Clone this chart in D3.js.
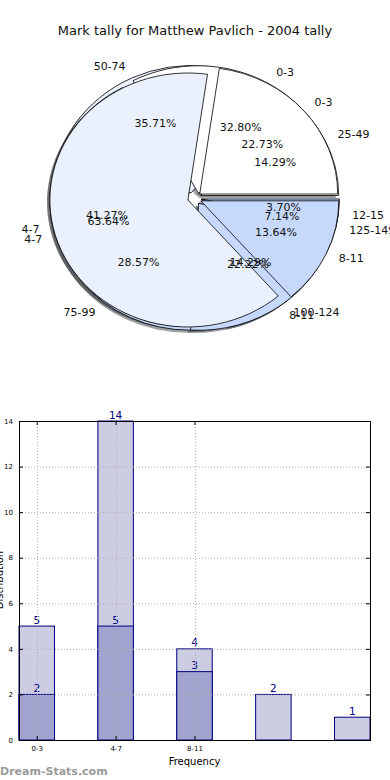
<!DOCTYPE html>
<html>
<head>
<meta charset="utf-8">
<script src="https://cdn.jsdelivr.net/npm/d3@7"></script>
<style>
  body { margin: 0; background: #fff; }
  svg { display: block; font-family: "DejaVu Sans", sans-serif; }
</style>
</head>
<body>
<svg id="chart" width="390" height="780"></svg>
<script>
const title = "Mark tally for Matthew Pavlich - 2004 tally"

// pies, drawn one over another in this order
const markLabels = ["25-49", "50-74", "75-99", "100-124", "125-149"]
const markPcts = [14.29, 35.71, 28.57, 14.29, 7.14]
const tallyLabels = ["0-3", "4-7", "8-11", "12-15"]
const tallyPcts = [32.80, 41.27, 22.22, 3.70]
const freqLabels = ["0-3", "4-7", "8-11"]
const freqPcts = [22.73, 63.64, 13.64]

// bars
const barTicks = ["0-3", "4-7", "8-11"]
const totalCounts = [5, 14, 4, 2, 1]
const seasonCounts = [2, 5, 3]
const yTicks = [0, 2, 4, 6, 8, 10, 12, 14]

const wedgeColors = ["#ffffff", "#eaf1fd", "#c6d9fd", "#a9c4f6", "#8eb0ee"]

const svg = d3.select("#chart")

svg.append("text")
    .attr("x", 195).attr("y", 30)
    .attr("text-anchor", "middle").attr("dominant-baseline", "central")
    .attr("font-size", 13).attr("fill", "#111")
    .text(title)

// ---- pies ----
const cx = 194.5, cy = 198.2, rx = 138, ry = 127, explode = 0.05
const pies = [
    {labels: markLabels, pcts: markPcts},
    {labels: tallyLabels, pcts: tallyPcts},
    {labels: freqLabels, pcts: freqPcts}
]
const pieGen = d3.pie().sort(null).value(d => d)
    .startAngle(Math.PI / 2).endAngle(Math.PI / 2 - 2 * Math.PI)
const arc = d3.arc().innerRadius(0).outerRadius(rx)

const wedges = []
pies.forEach(p => {
    pieGen(p.pcts).forEach((w, i) => {
        const m = (w.startAngle + w.endAngle) / 2
        wedges.push({
            arc: w, label: p.labels[i], pct: p.pcts[i],
            color: wedgeColors[i % wedgeColors.length],
            dx: Math.sin(m), dy: -Math.cos(m)
        })
    })
})

const pieG = svg.append("g")
const shadowG = pieG.append("g")
const wedgeG = pieG.append("g")
const textG = pieG.append("g")

wedges.forEach(w => {
    const ox = cx + explode * rx * w.dx, oy = cy + explode * ry * w.dy
    const c = d3.rgb(w.color)
    shadowG.append("path")
        .attr("transform", `translate(${ox - 0.02 * rx},${oy + 0.02 * ry}) scale(1,${ry / rx})`)
        .attr("d", arc(w.arc))
        .attr("fill", d3.rgb(c.r * 0.3, c.g * 0.3, c.b * 0.3))
        .attr("fill-opacity", 0.5)
    wedgeG.append("path")
        .attr("transform", `translate(${ox},${oy}) scale(1,${ry / rx})`)
        .attr("d", arc(w.arc))
        .attr("fill", w.color)
        .attr("stroke", "#000").attr("stroke-width", 0.8)
        .attr("vector-effect", "non-scaling-stroke")
    const k = 1.1 + explode, q = 0.6 + explode
    textG.append("text")
        .attr("x", cx + k * rx * w.dx).attr("y", cy + k * ry * w.dy)
        .attr("text-anchor", w.dx > 0 ? "start" : "end")
        .attr("dominant-baseline", "central")
        .attr("font-size", 11).attr("fill", "#111")
        .text(w.label)
    textG.append("text")
        .attr("x", cx + q * rx * w.dx).attr("y", cy + q * ry * w.dy)
        .attr("text-anchor", "middle")
        .attr("dominant-baseline", "central")
        .attr("font-size", 11).attr("fill", "#111")
        .text(w.pct.toFixed(2) + "%")
})

// ---- bar chart ----
const plot = {left: 19, right: 370, top: 421, bottom: 740}
const barW = 0.45
const x = d3.scaleLinear().domain([0, totalCounts.length - 1 + barW]).range([plot.left, plot.right])
const y = d3.scaleLinear().domain([0, 14]).range([plot.bottom, plot.top])
const navy = "#000080"

const barG = svg.append("g")

function drawBars(vals, fill) {
    barG.append("g").selectAll("rect")
        .data(vals)
        .join("rect")
        .attr("x", (d, i) => x(i))
        .attr("y", d => y(d))
        .attr("width", x(barW) - x(0))
        .attr("height", d => y(0) - y(d))
        .attr("fill", fill)
        .attr("stroke", navy).attr("stroke-width", 1)
}
drawBars(totalCounts, "#ccccE2")
drawBars(seasonCounts, "#a3a3d0")

// grid on top of bars
const grid = svg.append("g")
    .attr("stroke", "#b0b0b0").attr("stroke-width", 1).attr("stroke-dasharray", "1,2")
grid.selectAll(".hg").data(yTicks.slice(1, -1)).join("line")
    .attr("x1", plot.left).attr("x2", plot.right)
    .attr("y1", d => y(d) + 0.5).attr("y2", d => y(d) + 0.5)
grid.selectAll(".vg").data(barTicks).join("line")
    .attr("x1", (d, i) => Math.round(x(i + barW / 2)) + 0.5)
    .attr("x2", (d, i) => Math.round(x(i + barW / 2)) + 0.5)
    .attr("y1", plot.top).attr("y2", plot.bottom)

// value labels
function drawValues(vals) {
    barG.append("g").selectAll("text")
        .data(vals)
        .join("text")
        .attr("x", (d, i) => x(i + barW / 2))
        .attr("y", d => y(d) - 2.5)
        .attr("text-anchor", "middle")
        .attr("font-size", 10.5).attr("fill", navy)
        .text(d => d)
}
drawValues(totalCounts)
drawValues(seasonCounts)

// axes
const yAxis = d3.axisLeft(y).tickValues(yTicks).tickSize(-4).tickPadding(6)
svg.append("g")
    .attr("transform", `translate(${plot.left},0)`)
    .call(yAxis)
    .call(g => g.select(".domain").remove())
    .call(g => g.selectAll("text").attr("font-size", 7).attr("fill", "#000").attr("font-family", "DejaVu Sans"))
svg.append("g")
    .attr("transform", `translate(${plot.right},0)`)
    .call(d3.axisRight(y).tickValues(yTicks).tickSize(-4).tickFormat(""))
    .call(g => g.select(".domain").remove())

const xTickScale = d3.scalePoint().domain(barTicks).range([x(barW / 2), x(2 + barW / 2)])
svg.append("g")
    .attr("transform", `translate(0,${plot.bottom})`)
    .call(d3.axisBottom(xTickScale).tickSize(-4).tickPadding(6))
    .call(g => g.select(".domain").remove())
    .call(g => g.selectAll("text").attr("font-size", 7).attr("fill", "#000").attr("font-family", "DejaVu Sans"))
svg.append("g")
    .attr("transform", `translate(0,${plot.top})`)
    .call(d3.axisTop(xTickScale).tickSize(-4).tickFormat(""))
    .call(g => g.select(".domain").remove())

svg.append("rect")
    .attr("x", plot.left + 0.5).attr("y", plot.top + 0.5)
    .attr("width", plot.right - plot.left).attr("height", plot.bottom - plot.top)
    .attr("fill", "none").attr("stroke", "#000").attr("stroke-width", 1)

svg.append("text")
    .attr("x", x(2 + barW / 2)).attr("y", 761)
    .attr("text-anchor", "middle").attr("dominant-baseline", "central")
    .attr("font-size", 10).attr("fill", "#000")
    .text("Frequency")

svg.append("text")
    .attr("transform", "translate(3,580) rotate(-90)")
    .attr("text-anchor", "middle")
    .attr("font-size", 10).attr("fill", "#000")
    .text("Distribution")

svg.append("text")
    .attr("x", 0).attr("y", 771)
    .attr("dominant-baseline", "central")
    .attr("font-size", 11).attr("font-weight", "bold").attr("fill", "#9a9a9a")
    .text("Dream-Stats.com")
</script>
</body>
</html>
